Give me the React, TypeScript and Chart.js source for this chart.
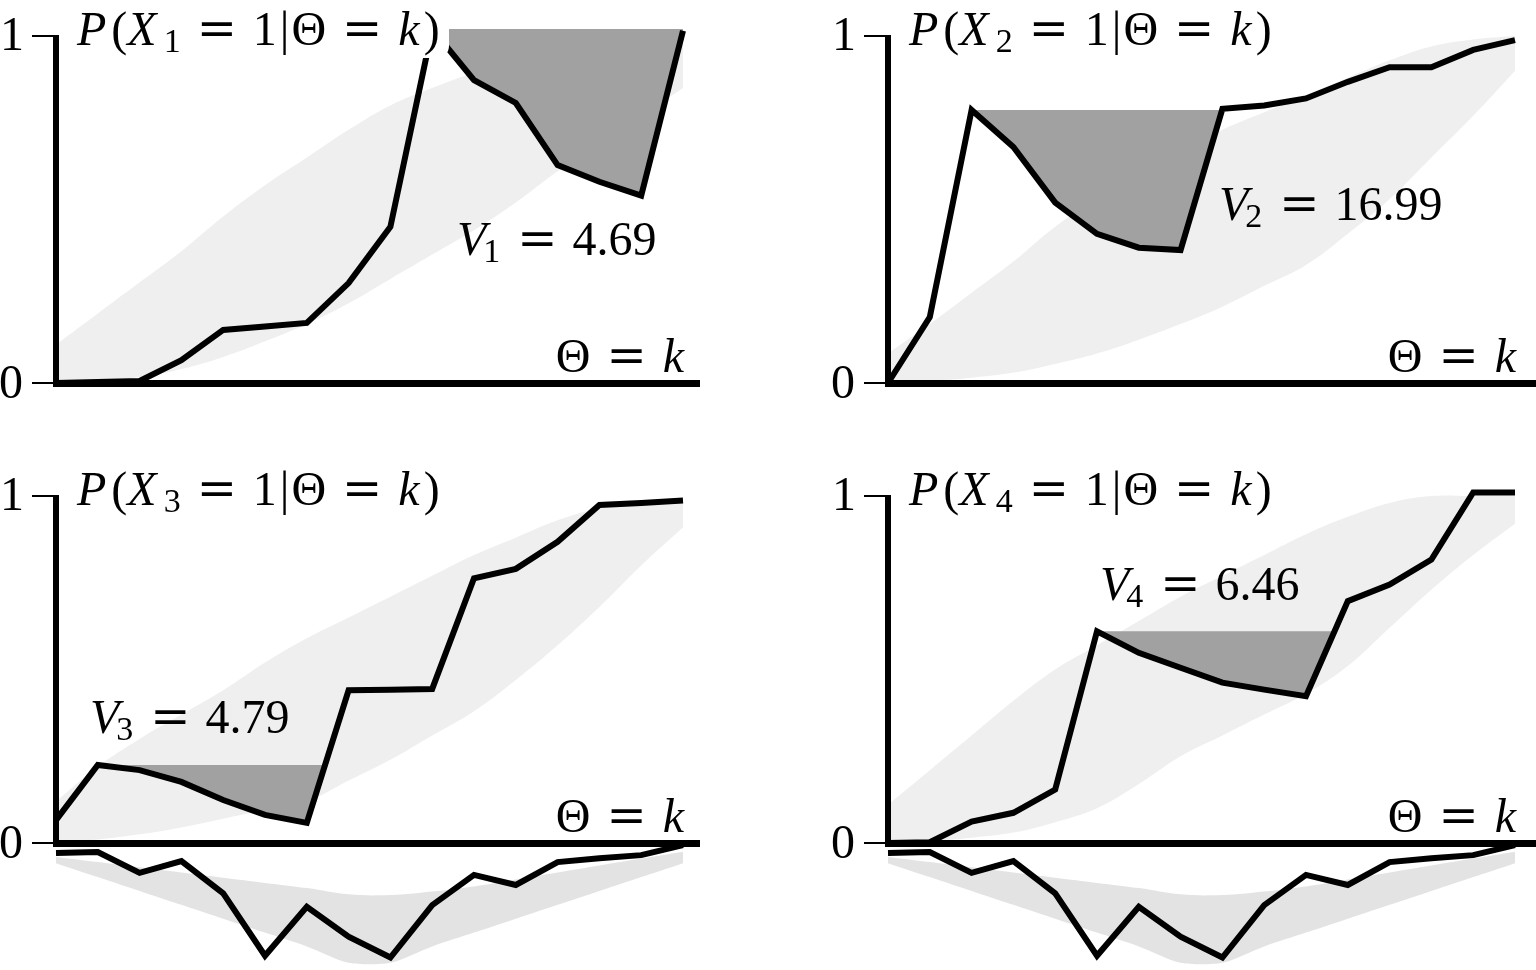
import React, { useEffect, useRef } from "react";
import { Chart, registerables } from "chart.js";

Chart.register(...registerables);

// ---------- data ----------
const thetaK = [0, 1, 2, 3, 4, 5, 6, 7, 8, 9, 10, 11, 12, 13, 14, 15];

const probX1 = [0, 0.003, 0.006, 0.066, 0.153, 0.163, 0.173, 0.288, 0.45, 1.02, 0.873, 0.807, 0.628, 0.58, 0.54, 1.015];
const probX2 = [0, 0.19, 0.787, 0.68, 0.52, 0.43, 0.39, 0.383, 0.79, 0.8, 0.82, 0.868, 0.91, 0.91, 0.96, 0.988];
const probX3 = [0.066, 0.225, 0.21, 0.176, 0.124, 0.081, 0.058, 0.44, 0.442, 0.444, 0.763, 0.79, 0.868, 0.974, 0.98, 0.987];
const probX4 = [0, 0.002, 0.062, 0.087, 0.154, 0.61, 0.548, 0.505, 0.462, 0.442, 0.423, 0.697, 0.745, 0.817, 1.01, 1.01];

const band1Up = [0.11, 0.2, 0.29, 0.38, 0.48, 0.57, 0.65, 0.73, 0.8, 0.85, 0.895, 0.935, 0.965, 0.985, 1.0, 1.0];
const band1Lo = [0.005, 0.01, 0.017, 0.04, 0.075, 0.12, 0.17, 0.23, 0.3, 0.37, 0.44, 0.52, 0.61, 0.69, 0.77, 0.85];
const band2Up = [0.085, 0.17, 0.26, 0.35, 0.45, 0.53, 0.6, 0.67, 0.73, 0.78, 0.83, 0.88, 0.93, 0.97, 0.99, 1.0];
const band2Lo = [0.0, 0.005, 0.015, 0.03, 0.055, 0.085, 0.125, 0.17, 0.22, 0.28, 0.34, 0.43, 0.53, 0.65, 0.77, 0.9];
const band3Up = [0.12, 0.22, 0.3, 0.37, 0.44, 0.52, 0.59, 0.65, 0.71, 0.77, 0.83, 0.88, 0.93, 0.965, 0.985, 0.99];
const band3Lo = [0.0, 0.01, 0.025, 0.045, 0.07, 0.095, 0.12, 0.18, 0.24, 0.31, 0.38, 0.47, 0.57, 0.68, 0.8, 0.91];
const band4Up = [0.11, 0.21, 0.31, 0.41, 0.5, 0.57, 0.64, 0.71, 0.77, 0.83, 0.89, 0.94, 0.98, 1.0, 1.0, 1.0];
const band4Lo = [0.0, 0.005, 0.015, 0.03, 0.06, 0.1, 0.17, 0.25, 0.31, 0.37, 0.43, 0.51, 0.62, 0.73, 0.83, 0.92];

const deviation = [-0.029, -0.026, -0.086, -0.052, -0.145, -0.325, -0.184, -0.27, -0.33, -0.179, -0.092, -0.121, -0.055, -0.044, -0.035, -0.006];
const devBandTop = [-0.04, -0.055, -0.07, -0.085, -0.1, -0.115, -0.13, -0.148, -0.15, -0.14, -0.125, -0.105, -0.085, -0.065, -0.045, -0.025];
const devBandBottom = [-0.058, -0.098, -0.138, -0.178, -0.218, -0.258, -0.298, -0.345, -0.345, -0.298, -0.258, -0.218, -0.178, -0.138, -0.098, -0.058];

const varIndex = ["1", "2", "3", "4"];
const vValues = ["4.69", "16.99", "4.79", "6.46"];
const yTickLabels = ["0", "1"];

// ---------- layout ----------
const UX = 41.8;
const UY = 347;
const FS = 48;

type PanelCfg = {
  line: number[]; up: number[]; lo: number[]; dev: boolean; idx: number;
  left: number; top: number; w: number; h: number; x0: number; y0: number;
  axisEnd: number; vLeft: number; vBase: number;
};

const PANELS: PanelCfg[] = [
  { line: probX1, up: band1Up, lo: band1Lo, dev: false, idx: 0, left: 0, top: 0, w: 768, h: 460, x0: 56, y0: 383, axisEnd: 700, vLeft: 401, vBase: -128 },
  { line: probX2, up: band2Up, lo: band2Lo, dev: false, idx: 1, left: 768, top: 0, w: 768, h: 460, x0: 888, y0: 383, axisEnd: 1536, vLeft: 331, vBase: -163 },
  { line: probX3, up: band3Up, lo: band3Lo, dev: true, idx: 2, left: 0, top: 460, w: 768, h: 510, x0: 56, y0: 843, axisEnd: 700, vLeft: 34, vBase: -110 },
  { line: probX4, up: band4Up, lo: band4Lo, dev: true, idx: 3, left: 768, top: 460, w: 768, h: 510, x0: 888, y0: 843, axisEnd: 1536, vLeft: 212, vBase: -243 },
];

type Tok = { t: string; k: "rm" | "it" | "sub" | "eq"; g?: number };

function fontOf(k: Tok["k"]) {
  if (k === "it") return `italic ${FS}px "Liberation Serif"`;
  if (k === "sub") return `${Math.round(FS * 0.7)}px "Liberation Serif"`;
  if (k === "eq") return `${FS}px "DejaVu Serif"`;
  return `${FS}px "Liberation Serif"`;
}

function drawMath(ctx: CanvasRenderingContext2D, toks: Tok[], x: number, y: number, align: "left" | "right") {
  let cx = 0;
  const placed: { tk: Tok; x: number }[] = [];
  for (const tk of toks) {
    cx += tk.g || 0;
    ctx.font = fontOf(tk.k);
    placed.push({ tk, x: cx });
    cx += ctx.measureText(tk.t).width;
  }
  const sx = align === "right" ? x - cx : x;
  ctx.textAlign = "left";
  ctx.textBaseline = "alphabetic";
  for (const p of placed) {
    ctx.font = fontOf(p.tk.k);
    ctx.fillText(p.tk.t, sx + p.x, y + (p.tk.k === "sub" ? 7 : 0));
  }
}

const titleToks = (s: string): Tok[] => [
  { t: "P", k: "it" },
  { t: "(", k: "rm", g: 5 },
  { t: "X", k: "it" },
  { t: s, k: "sub", g: 7 },
  { t: "=", k: "eq", g: 16 },
  { t: "1", k: "rm", g: 16 },
  { t: "|", k: "rm", g: 3 },
  { t: "Θ", k: "rm", g: 2 },
  { t: "=", k: "eq", g: 16 },
  { t: "k", k: "it", g: 16 },
  { t: ")", k: "rm", g: 4 },
];
const vToks = (s: string, v: string): Tok[] => [
  { t: "V", k: "it" },
  { t: s, k: "sub", g: -3 },
  { t: "=", k: "eq", g: 17 },
  { t: v, k: "rm", g: 15 },
];
const thetaToks: Tok[] = [
  { t: "Θ", k: "rm" },
  { t: "=", k: "eq", g: 16 },
  { t: "k", k: "it", g: 16 },
];

function pts(arr: number[]) {
  return thetaK.map((k, i) => ({ x: k, y: arr[i] }));
}

// running peak of the curve; where the curve climbs back above the peak,
// the crossing point is added so the peak stays flat up to it
function peakPts(arr: number[]) {
  const out: { x: number; y: number }[] = [{ x: thetaK[0], y: arr[0] }];
  let m = arr[0];
  for (let i = 1; i < arr.length; i++) {
    const prev = arr[i - 1];
    const cur = arr[i];
    if (cur > m && prev < m) {
      const t = (m - prev) / (cur - prev);
      out.push({ x: thetaK[i - 1] + t * (thetaK[i] - thetaK[i - 1]), y: m });
    }
    m = Math.max(m, cur);
    out.push({ x: thetaK[i], y: m });
  }
  return out;
}

function Panel({ cfg }: { cfg: PanelCfg }) {
  const ref = useRef<HTMLCanvasElement | null>(null);
  useEffect(() => {
    const canvas = ref.current!;
    const xmin = -cfg.x0 + cfg.left;
    const ymax = (cfg.y0 - cfg.top) / UY;
    const datasets: any[] = [
      {
        label: "P", data: pts(cfg.line), borderColor: "#000", borderWidth: 6,
        pointRadius: 0, tension: 0, fill: false, order: 0, borderJoinStyle: "miter",
      },
      {
        label: "peak", data: peakPts(cfg.line), borderColor: "rgba(0,0,0,0)", borderWidth: 0,
        pointRadius: 0, tension: 0, order: 1,
        fill: { target: 0, above: "#a1a1a1", below: "rgba(0,0,0,0)" },
      },
      {
        label: "bandUp", data: pts(cfg.up), borderColor: "rgba(0,0,0,0)", borderWidth: 0,
        pointRadius: 0, tension: 0.4, order: 3, fill: { target: 3 }, backgroundColor: "#efefef",
      },
      {
        label: "bandLo", data: pts(cfg.lo), borderColor: "rgba(0,0,0,0)", borderWidth: 0,
        pointRadius: 0, tension: 0.4, order: 4, fill: false,
      },
    ];
    if (cfg.dev) {
      datasets.push(
        {
          label: "dev", data: pts(deviation), borderColor: "#000", borderWidth: 6,
          pointRadius: 0, tension: 0, fill: false, order: 0, borderJoinStyle: "miter",
        },
        {
          label: "devTop", data: pts(devBandTop), borderColor: "rgba(0,0,0,0)", borderWidth: 0,
          pointRadius: 0, tension: 0.4, order: 3, fill: { target: 6 }, backgroundColor: "#e3e3e3",
        },
        {
          label: "devBottom", data: pts(devBandBottom), borderColor: "rgba(0,0,0,0)", borderWidth: 0,
          pointRadius: 0, tension: 0.25, order: 4, fill: false,
        }
      );
    }

    const decor = {
      id: "decor",
      afterDatasetsDraw(chart: any) {
        const ctx: CanvasRenderingContext2D = chart.ctx;
        const sx = chart.scales.x, sy = chart.scales.y;
        const ox = sx.getPixelForValue(0);
        const oy = sy.getPixelForValue(0);
        const y1 = sy.getPixelForValue(1);
        const right = sx.getPixelForValue(15);
        ctx.save();
        // title with white box
        ctx.fillStyle = "#fff";
        ctx.beginPath();
        (ctx as any).roundRect(ox + 16, oy - 383, 377, 58, 12);
        ctx.fill();
        ctx.fillStyle = "#000";
        drawMath(ctx, titleToks(varIndex[cfg.idx]), ox + 21, oy - 338, "left");
        drawMath(ctx, vToks(varIndex[cfg.idx], vValues[cfg.idx]), ox + cfg.vLeft, oy + cfg.vBase, "left");
        drawMath(ctx, thetaToks, right + 1, oy - 11, "right");
        // axes
        ctx.fillStyle = "#000";
        ctx.fillRect(ox - 3, oy - 3, cfg.axisEnd - cfg.left - (ox - 3), 7);
        ctx.fillRect(ox - 3, y1 - 1, 6, oy - y1 + 3);
        ctx.fillRect(ox - 24, y1 - 1, 22, 2);
        ctx.fillRect(ox - 24, oy - 1, 22, 2);
        ctx.font = `${FS}px "Liberation Serif"`;
        ctx.textAlign = "center";
        ctx.textBaseline = "alphabetic";
        ctx.fillText(yTickLabels[1], ox - 44, y1 + 14);
        ctx.fillText(yTickLabels[0], ox - 45, oy + 15);
        ctx.restore();
      },
    };

    const chart = new Chart(canvas, {
      type: "line",
      data: { datasets },
      options: {
        responsive: false,
        maintainAspectRatio: false,
        animation: false,
        events: [],
        layout: { padding: 0 },
        plugins: { legend: { display: false }, tooltip: { enabled: false }, filler: { propagate: false } },
        scales: {
          x: { type: "linear", display: false, bounds: "data", min: xmin / UX, max: (xmin + cfg.w) / UX },
          y: { type: "linear", display: false, bounds: "data", min: ymax - cfg.h / UY, max: ymax },
        },
      } as any,
      plugins: [decor],
    });
    return () => chart.destroy();
  }, [cfg]);
  return (
    <canvas
      ref={ref}
      width={cfg.w}
      height={cfg.h}
      style={{ position: "absolute", left: cfg.left, top: cfg.top, width: cfg.w, height: cfg.h }}
    />
  );
}

export default function App() {
  return (
    <div style={{ position: "absolute", left: 0, top: 0, width: 1536, height: 970, background: "#fff", overflow: "hidden" }}>
      {PANELS.map((p, i) => (
        <Panel key={i} cfg={p} />
      ))}
    </div>
  );
}
